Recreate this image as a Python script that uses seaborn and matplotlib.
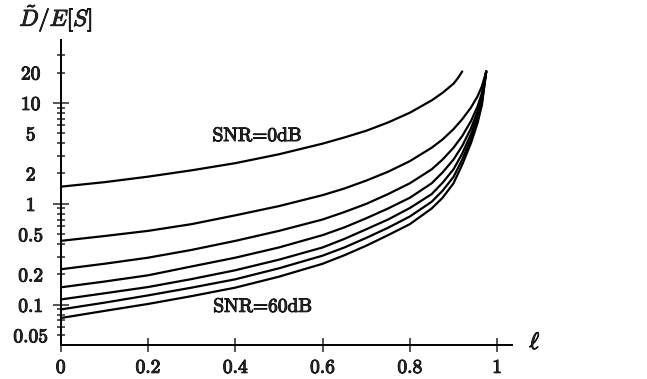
import numpy as np
import pandas as pd
import matplotlib
matplotlib.use("Agg")
import matplotlib.pyplot as plt
import matplotlib.patheffects as pe
import seaborn as sns

# valores (eje y logaritmico)
ell = [0.0, 0.1, 0.2, 0.3, 0.4, 0.5, 0.6, 0.65, 0.7, 0.75, 0.8, 0.85, 0.875, 0.9,
       0.92, 0.94, 0.955, 0.965, 0.975]
ell_0db = [0.0, 0.1, 0.2, 0.3, 0.4, 0.5, 0.6, 0.65, 0.7, 0.75, 0.8, 0.85, 0.875,
           0.9, 0.91, 0.92]

d_0db = [1.48, 1.64, 1.86, 2.15, 2.53, 3.1, 3.95, 4.55, 5.3, 6.4, 8.0, 10.6, 12.6,
         15.5, 17.6, 20.5]
d_10db = [0.43, 0.48, 0.54, 0.63, 0.77, 0.95, 1.22, 1.42, 1.7, 2.08, 2.65, 3.6, 4.35,
          5.5, 6.9, 9.0, 11.6, 14.6, 20.5]
d_20db = [0.225, 0.255, 0.293, 0.35, 0.43, 0.54, 0.70, 0.83, 1.0, 1.25, 1.6, 2.2, 2.75,
          3.6, 4.7, 6.6, 9.2, 12.5, 20.5]
d_30db = [0.149, 0.17, 0.196, 0.24, 0.293, 0.37, 0.49, 0.585, 0.72, 0.9, 1.15, 1.6,
          2.05, 2.75, 3.75, 5.6, 8.2, 11.5, 20.5]
d_40db = [0.113, 0.13, 0.150, 0.18, 0.22, 0.28, 0.37, 0.45, 0.56, 0.7, 0.91, 1.25, 1.62,
          2.2, 3.15, 4.9, 7.4, 10.7, 20.5]
d_50db = [0.09, 0.105, 0.124, 0.148, 0.179, 0.23, 0.307, 0.37, 0.46, 0.58, 0.75, 1.05,
          1.35, 1.85, 2.75, 4.4, 6.8, 10.1, 20.5]
d_60db = [0.074, 0.087, 0.102, 0.122, 0.148, 0.19, 0.255, 0.31, 0.385, 0.49, 0.63,
          0.9, 1.15, 1.6, 2.45, 4.0, 6.3, 9.5, 20.5]

snr_labels = ["0dB", "10dB", "20dB", "30dB", "40dB", "50dB", "60dB"]
series = [d_0db, d_10db, d_20db, d_30db, d_40db, d_50db, d_60db]

frames = []
for name, vals in zip(snr_labels, series):
    xs = ell_0db if name == "0dB" else ell
    frames.append(pd.DataFrame({"ell": xs, "D": vals, "snr": name}))
df = pd.concat(frames, ignore_index=True)

sns.set_style("ticks")
plt.rcParams["font.family"] = ["cmr10", "DejaVu Serif"]
plt.rcParams["mathtext.fontset"] = "cm"
plt.rcParams["axes.unicode_minus"] = False

# trazo extra para imitar la tinta del escaneo
grueso = [pe.withStroke(linewidth=0.7, foreground="black")]

fig = plt.figure(figsize=(6.47, 3.79), dpi=100)
ax = fig.add_axes([60.7 / 647, 1 - 345 / 379, (512 - 60.7) / 647, (345 - 40) / 379])

sns.lineplot(data=df, x="ell", y="D", hue="snr", palette=["black"] * 7,
             estimator=None, sort=False, legend=False, linewidth=1.6, ax=ax)

ax.set_yscale("log")
ax.set_xlim(0, 1.034)
ax.set_ylim(0.04, 42)

for s in ["top", "right"]:
    ax.spines[s].set_visible(False)
for s in ["left", "bottom"]:
    ax.spines[s].set_linewidth(1.4)
    ax.spines[s].set_color("black")

# eje x
ax.set_xticks([0, 0.2, 0.4, 0.6, 0.8, 1.0], labels=["0", "0.2", "0.4", "0.6", "0.8", "1"])
ax.tick_params(axis="x", direction="inout", length=10, width=1.1, pad=5, labelsize=14)

# eje y
major = [0.1, 1, 10]
minor = [0.05, 0.06, 0.07, 0.08, 0.09, 0.2, 0.3, 0.4, 0.5, 0.6, 0.7, 0.8, 0.9,
         2, 3, 4, 5, 6, 7, 8, 9, 20, 30]
minor_lab = {0.05: "0.05", 0.2: "0.2", 0.5: "0.5", 2: "2", 5: "5", 20: "20"}
ax.set_yticks(major, labels=["0.1", "1", "10"])
ax.set_yticks(minor, labels=[minor_lab.get(v, "") for v in minor], minor=True)
ax.tick_params(axis="y", which="major", direction="inout", length=12, width=1.1,
               pad=15.6, labelsize=14)
ax.tick_params(axis="y", which="minor", direction="inout", length=6, width=1.1,
               pad=18.6, labelsize=14)
for t in ax.get_yticklabels(which="both"):
    t.set_horizontalalignment("center")
for t in ax.get_yticklabels(which="both") + ax.get_xticklabels():
    t.set_path_effects(grueso)

ax.set_xlabel("")
ax.set_ylabel("")

fig.text(56 / 647, 1 - 19 / 379, r"$\tilde{D}/E[S]$", fontsize=16.5, ha="center",
         va="center", path_effects=grueso)
fig.text(535 / 647, 1 - 343 / 379, r"$\ell$", fontsize=17, ha="center", va="center",
         path_effects=grueso)

ax.text(0.45, 4.7, "SNR=0dB", fontsize=14, ha="center", va="center", path_effects=grueso)
ax.text(0.463, 0.0955, "SNR=60dB", fontsize=14, ha="center", va="center",
        path_effects=grueso)

fig.savefig("out.png", dpi=100)
